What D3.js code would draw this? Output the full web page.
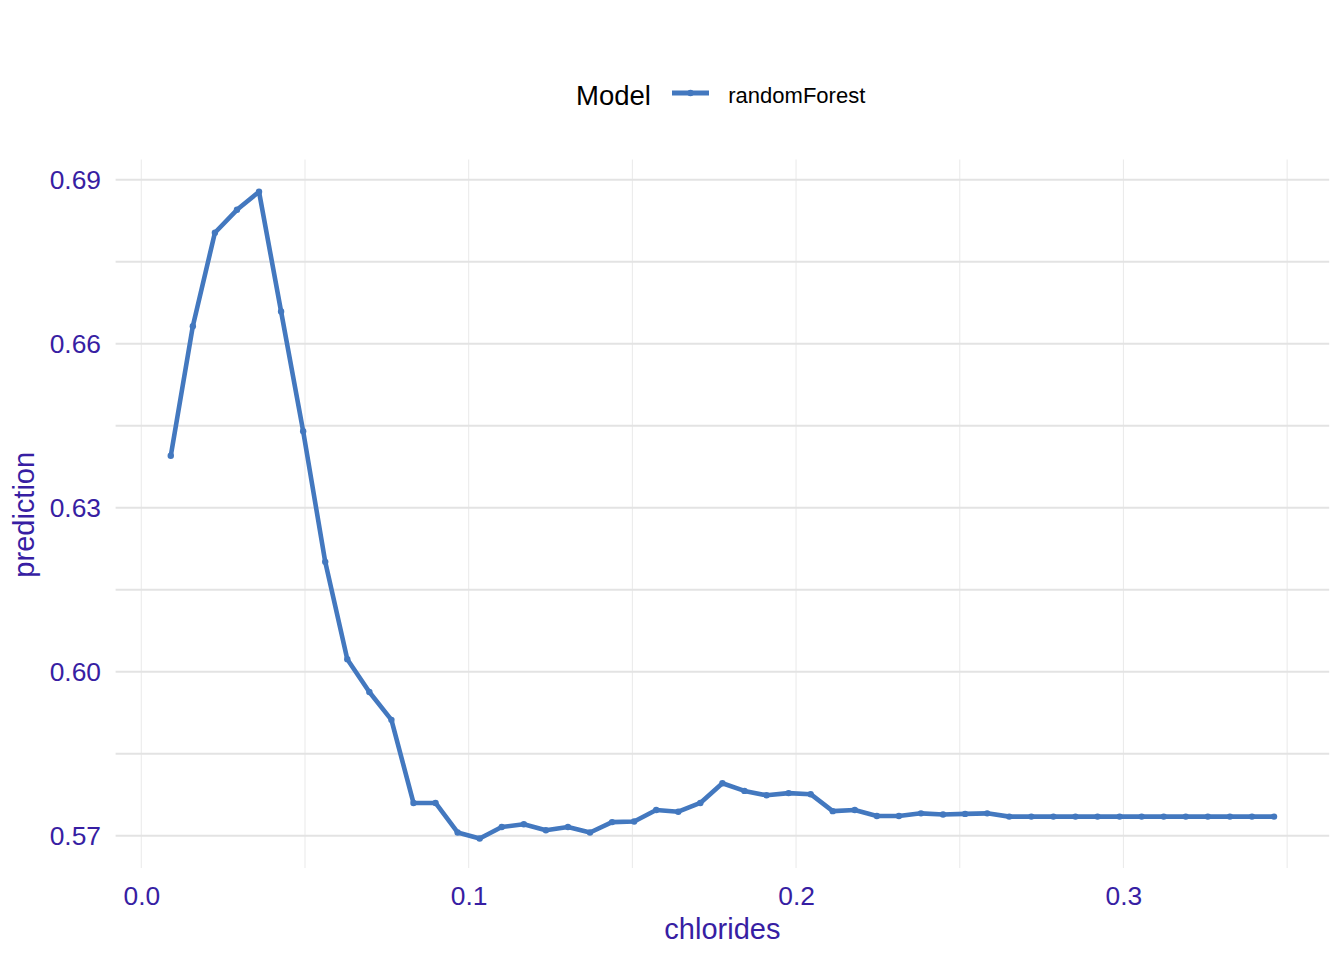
<!DOCTYPE html>
<html>
<head>
<meta charset="utf-8">
<script src="https://cdn.jsdelivr.net/npm/d3@7"></script>
<style>
  html, body { margin: 0; padding: 0; background: #ffffff; }
  svg { display: block; font-family: "Liberation Sans", Arial, sans-serif; }
</style>
</head>
<body>
<svg id="chart" width="1344" height="960"></svg>
<script>
// ---- data ----
const chlorides = [0.009, 0.01574, 0.02248, 0.02922, 0.03596, 0.0427, 0.04944, 0.05618, 0.06292, 0.06966,
  0.0764, 0.08314, 0.08988, 0.09662, 0.10336, 0.1101, 0.11684, 0.12358, 0.13032, 0.13706,
  0.1438, 0.15054, 0.15728, 0.16402, 0.17076, 0.1775, 0.18424, 0.19098, 0.19772, 0.20446,
  0.2112, 0.21794, 0.22468, 0.23142, 0.23816, 0.2449, 0.25164, 0.25838, 0.26512, 0.27186,
  0.2786, 0.28534, 0.29208, 0.29882, 0.30556, 0.3123, 0.31904, 0.32578, 0.33252, 0.33926, 0.346];
const prediction = [0.6395, 0.6632, 0.6803, 0.6845, 0.6878, 0.6659, 0.6440, 0.6201, 0.6023, 0.5963,
  0.5912, 0.5760, 0.5760, 0.5706, 0.5695, 0.5716, 0.5721, 0.5710, 0.5716, 0.5706,
  0.5725, 0.5726, 0.5747, 0.5744, 0.5760, 0.5796, 0.5782, 0.5774, 0.5778, 0.5776,
  0.5745, 0.5747, 0.5736, 0.5736, 0.5741, 0.5739, 0.5740, 0.5741, 0.5735, 0.5735,
  0.5735, 0.5735, 0.5735, 0.5735, 0.5735, 0.5735, 0.5735, 0.5735, 0.5735, 0.5735, 0.5735];
const modelName = "randomForest";
const xTicks = [0.0, 0.1, 0.2, 0.3];
const xMinor = [0.05, 0.15, 0.25, 0.35];
const yTicks = [0.57, 0.60, 0.63, 0.66, 0.69];
const yMinor = [0.585, 0.615, 0.645, 0.675];
const xDomain = [-0.00785, 0.36285];
const yDomain = [0.5641, 0.6937];

// ---- layout ----
const panel = { left: 115.6, right: 1329.2, top: 159.5, bottom: 868 };
const lineColor = "#4378bf";
const textColor = "#371ea3";

const svg = d3.select("#chart");
const x = d3.scaleLinear().domain(xDomain).range([panel.left, panel.right]);
const y = d3.scaleLinear().domain(yDomain).range([panel.bottom, panel.top]);

// grid
const grid = svg.append("g");
grid.selectAll("line.vx").data(xTicks.concat(xMinor)).join("line")
  .attr("x1", d => x(d)).attr("x2", d => x(d))
  .attr("y1", panel.top).attr("y2", panel.bottom)
  .attr("stroke", "#ebebeb").attr("stroke-width", 1.1);
grid.selectAll("line.hy").data(yTicks.concat(yMinor)).join("line")
  .attr("x1", panel.left).attr("x2", panel.right)
  .attr("y1", d => y(d)).attr("y2", d => y(d))
  .attr("stroke", "#e3e3e3").attr("stroke-width", 2);

// axes (labels only)
const xAxis = d3.axisBottom(x).tickValues(xTicks).tickFormat(d3.format(".1f")).tickSize(0).tickPadding(0);
const gx = svg.append("g").attr("transform", `translate(0, ${panel.bottom})`).call(xAxis);
gx.select(".domain").remove();
gx.selectAll("text").attr("fill", textColor).attr("font-size", 26.4)
  .attr("font-family", "Liberation Sans, Arial, sans-serif")
  .attr("dy", null).attr("y", 37);

const yAxis = d3.axisLeft(y).tickValues(yTicks).tickFormat(d3.format(".2f")).tickSize(0).tickPadding(0);
const gy = svg.append("g").attr("transform", `translate(101, 0)`).call(yAxis);
gy.select(".domain").remove();
gy.selectAll("text").attr("fill", textColor).attr("font-size", 26.4)
  .attr("font-family", "Liberation Sans, Arial, sans-serif")
  .attr("x", 0).attr("dy", "0.35em");

// axis titles
svg.append("text").attr("x", (panel.left + panel.right) / 2).attr("y", 939)
  .attr("text-anchor", "middle").attr("fill", textColor).attr("font-size", 29)
  .text("chlorides");
svg.append("text").attr("transform", `translate(34, ${(panel.top + panel.bottom) / 2 + 1}) rotate(-90)`)
  .attr("text-anchor", "middle").attr("fill", textColor).attr("font-size", 29)
  .text("prediction");

// line + points
const pts = chlorides.map((c, i) => ({ x: c, y: prediction[i] }));
svg.append("path").datum(pts)
  .attr("fill", "none").attr("stroke", lineColor).attr("stroke-width", 4.6)
  .attr("stroke-linejoin", "round")
  .attr("d", d3.line().x(d => x(d.x)).y(d => y(d.y)));
svg.append("g").selectAll("circle").data(pts).join("circle")
  .attr("cx", d => x(d.x)).attr("cy", d => y(d.y)).attr("r", 3.2)
  .attr("fill", lineColor);

// legend
const lg = svg.append("g");
lg.append("text").attr("x", 576).attr("y", 105).attr("font-size", 27.5).attr("fill", "#000")
  .text("Model");
lg.append("line").attr("x1", 672).attr("x2", 709).attr("y1", 93).attr("y2", 93)
  .attr("stroke", lineColor).attr("stroke-width", 5);
lg.append("circle").attr("cx", 690.5).attr("cy", 93).attr("r", 3.2).attr("fill", lineColor);
lg.append("text").attr("x", 728.3).attr("y", 103.3).attr("font-size", 22).attr("fill", "#000")
  .text(modelName);
</script>
</body>
</html>
